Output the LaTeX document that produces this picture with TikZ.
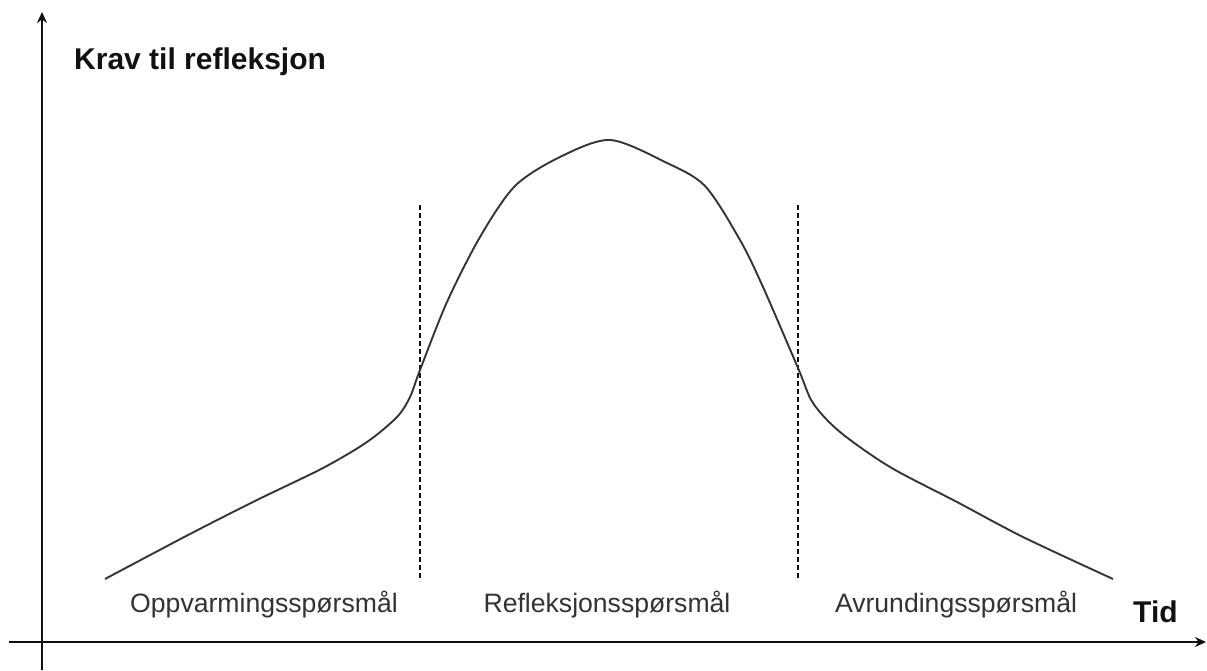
\documentclass[tikz,border=0pt]{standalone}
\usepackage{fontspec}
\setmainfont{Liberation Sans}
\usetikzlibrary{arrows.meta}
\definecolor{labelgray}{HTML}{333333}
\definecolor{ink}{HTML}{111111}
\begin{document}
\begin{tikzpicture}[x=1pt,y=-1pt,
  axis/.style={draw=ink, line width=2pt, -{Stealth[length=11pt,width=10pt]}},
  divider/.style={draw=ink, line width=1.2pt, dash pattern=on 5pt off 3pt},
  curveline/.style={draw=ink!85, line width=1.9pt},
  phase/.style={text=labelgray, font=\fontsize{26.6}{30}\selectfont, anchor=base, inner sep=0pt},
  axislabel/.style={text=ink, font=\fontsize{30}{34}\selectfont\bfseries, anchor=base west, inner sep=0pt}]
\useasboundingbox (0,0) rectangle (1207,671);
\fill[white] (0,0) rectangle (1207,671);
% axes
\coordinate (yb) at (42,670);
\coordinate (yt) at (42,12);
\coordinate (xl) at (9,642);
\coordinate (xr) at (1206,642);
\draw[axis] (yb) -- (yt);
\draw[axis] (xl) -- (xr);
% dividers
\coordinate (d1t) at (420,205);
\coordinate (d1b) at (420,581);
\coordinate (d2t) at (798,205);
\coordinate (d2b) at (798,581);
\draw[divider] (d1t) -- (d1b);
\draw[divider] (d2t) -- (d2b);
% curve
\draw[curveline] plot[smooth, tension=0.5] coordinates {
  (105,579) (190,534) (257,500) (323,468) (367,442) (397,417) (410,397) (420,370)
  (447,302) (480,237) (515,186) (560,157) (610,140) (665,162)
  (705,186) (740,240) (763,287) (798,368) (813,403) (840,432) (890,467)
  (957,502) (1023,537) (1113,579)};
% labels
\node[axislabel] (title) at (74,70) {Krav til refleksjon};
\node[axislabel] (tid) at (1133,622) {Tid};
\node[phase] (p1) at (264,612) {Oppvarmingsspørsmål};
\node[phase] (p2) at (607,612) {Refleksjonsspørsmål};
\node[phase] (p3) at (956,612) {Avrundingsspørsmål};
\end{tikzpicture}
\end{document}
